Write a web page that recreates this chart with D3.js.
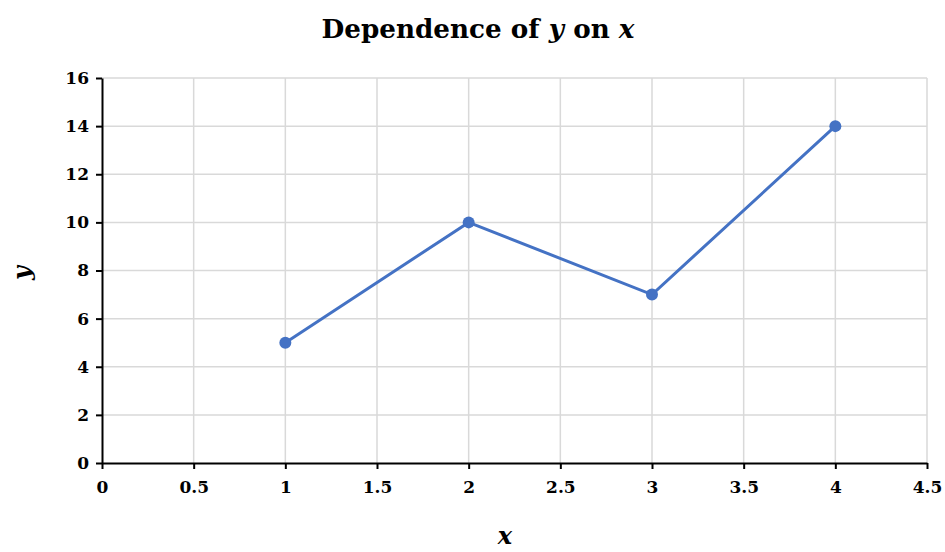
<!DOCTYPE html>
<html>
<head>
<meta charset="utf-8">
<script src="https://cdn.jsdelivr.net/npm/d3@7"></script>
<style>
  body { margin: 0; background: #fff; }
  text { font-family: "DejaVu Serif", "Liberation Serif", serif; }
</style>
</head>
<body>
<div class="content"></div>
<script>
// data
var xValues = [1, 2, 3, 4];
var yValues = [5, 10, 7, 14];
var xTicks = [0, 0.5, 1, 1.5, 2, 2.5, 3, 3.5, 4, 4.5];
var yTicks = [0, 2, 4, 6, 8, 10, 12, 14, 16];

var margin = {top: 78, right: 18, bottom: 89, left: 102},
    width = 945 - margin.left - margin.right,
    height = 552 - margin.top - margin.bottom;

var svg = d3.select(".content")
    .append("svg")
    .attr("width", 945)
    .attr("height", 552);

var g = svg.append("g")
    .attr("transform", "translate(" + margin.left + "," + margin.top + ")");

var x = d3.scaleLinear().domain([0, 4.5]).range([0, width]);
var y = d3.scaleLinear().domain([0, 16]).range([height, 0]);

// grid
g.append("g").selectAll("line")
    .data(xTicks.slice(1))
    .enter().append("line")
    .attr("x1", function(d) { return x(d); })
    .attr("x2", function(d) { return x(d); })
    .attr("y1", 0).attr("y2", height)
    .attr("stroke", "#d9d9d9").attr("stroke-width", 1.5);

g.append("g").selectAll("line")
    .data(yTicks.slice(1))
    .enter().append("line")
    .attr("x1", 0).attr("x2", width)
    .attr("y1", function(d) { return y(d); })
    .attr("y2", function(d) { return y(d); })
    .attr("stroke", "#d9d9d9").attr("stroke-width", 1.5);

// axes
var xAxis = g.append("g")
    .attr("transform", "translate(0," + height + ")")
    .call(d3.axisBottom(x).tickValues(xTicks).tickSize(6).tickSizeOuter(0)
        .tickFormat(function(d) { return d; }));
var yAxis = g.append("g")
    .call(d3.axisLeft(y).tickValues(yTicks).tickSize(6).tickSizeOuter(0));

[xAxis, yAxis].forEach(function(a) {
    a.select(".domain").attr("stroke", "#000").attr("stroke-width", 2);
    a.selectAll(".tick line").attr("stroke", "#000").attr("stroke-width", 2);
    a.selectAll(".tick text")
        .attr("fill", "#000")
        .style("font-family", "DejaVu Serif, serif")
        .style("font-weight", "bold")
        .style("font-size", "17px");
});
xAxis.selectAll(".tick text").attr("dy", "1.25em");
yAxis.selectAll(".tick text").attr("x", -13);

// line
var pts = xValues.map(function(d, i) { return {x: d, y: yValues[i]}; });
g.append("path")
    .datum(pts)
    .attr("fill", "none")
    .attr("stroke", "#4472C4")
    .attr("stroke-width", 3)
    .attr("d", d3.line()
        .x(function(d) { return x(d.x); })
        .y(function(d) { return y(d.y); }));

g.selectAll(".pt")
    .data(pts)
    .enter().append("circle")
    .attr("cx", function(d) { return x(d.x); })
    .attr("cy", function(d) { return y(d.y); })
    .attr("r", 6)
    .attr("fill", "#4472C4");

// title
var title = svg.append("text")
    .attr("x", 478)
    .attr("y", 38)
    .attr("text-anchor", "middle")
    .style("font-size", "24px")
    .style("font-weight", "bold")
    .attr("fill", "#000");
title.append("tspan").text("Dependence of ");
title.append("tspan").style("font-style", "italic").text("y");
title.append("tspan").text(" on ");
title.append("tspan").style("font-style", "italic").text("x");
// fit to the width seen in the reference (~313px)
var tw = title.node().getComputedTextLength();
title.style("font-size", (24 * 313 / tw) + "px");

// axis titles
svg.append("text")
    .attr("x", 505)
    .attr("y", 544)
    .attr("text-anchor", "middle")
    .style("font-size", "24px")
    .style("font-weight", "bold")
    .style("font-style", "italic")
    .text("x");

svg.append("text")
    .attr("transform", "translate(30,273) rotate(-90)")
    .attr("text-anchor", "middle")
    .style("font-size", "24px")
    .style("font-weight", "bold")
    .style("font-style", "italic")
    .text("y");
</script>
</body>
</html>
